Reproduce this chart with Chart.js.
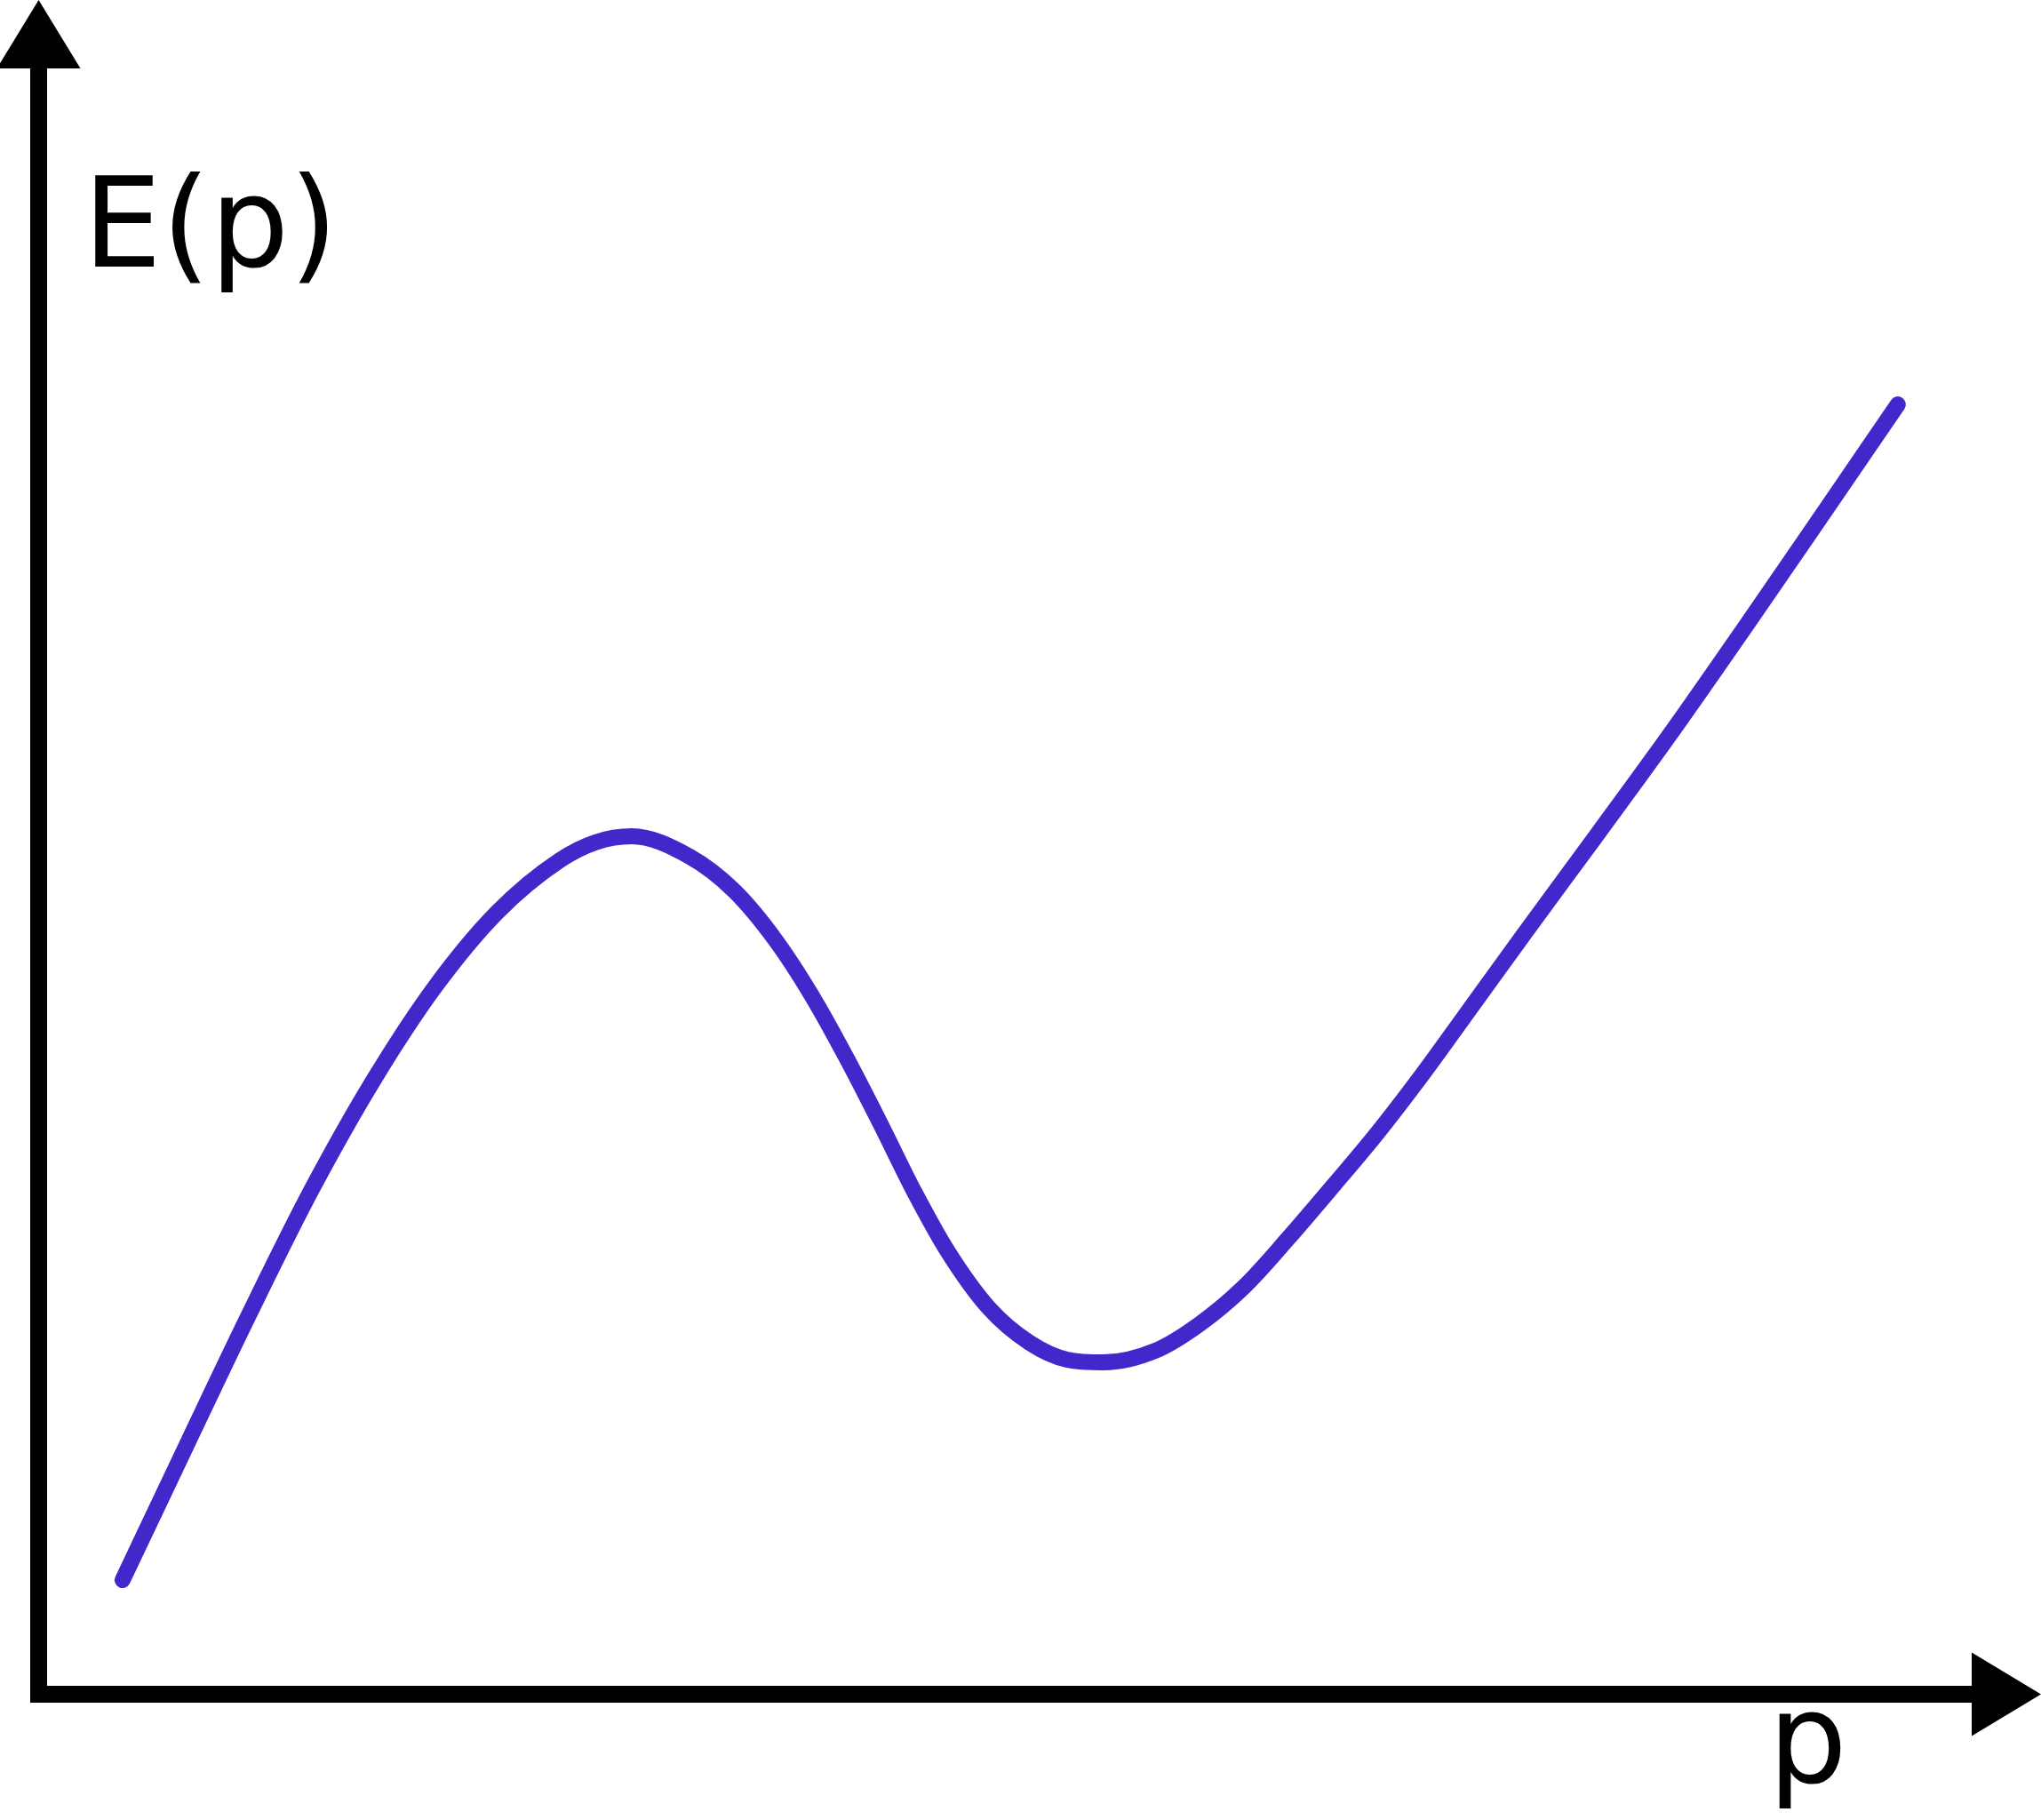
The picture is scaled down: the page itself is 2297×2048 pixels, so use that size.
<!DOCTYPE html>
<html>
<head>
<meta charset="utf-8">
<script src="https://cdn.jsdelivr.net/npm/chart.js@4/dist/chart.umd.min.js"></script>
<style>
  html, body { margin: 0; padding: 0; background: #fff; }
  #wrap { width: 2297px; height: 2048px; position: relative; }
</style>
</head>
<body>
<div id="wrap"><canvas id="chart"></canvas></div>
<script>
// momentum p (arbitrary units, 0..100 along the axis)
const pValues = [4.19, 7.39, 10.49, 13.60, 16.71, 19.81, 22.92, 26.03, 27.80,
  29.62, 32.51, 34.72, 36.77, 38.63, 40.36, 42.05, 43.73, 45.42, 47.46,
  49.50, 51.36, 53.18, 55.76, 57.98, 60.20, 62.42, 64.63, 66.85, 69.07,
  70.85, 74.22, 77.90, 81.58, 85.27, 88.91, 92.85];

// energy E(p) (arbitrary units, 0..100 up the axis)
const eValues = [6.74, 14.71, 22.37, 29.71, 36.22, 41.78, 46.18, 49.23, 50.28,
  50.64, 49.44, 47.44, 44.56, 41.20, 37.53, 33.65, 29.66, 26.10, 22.79,
  20.74, 19.75, 19.59, 20.27, 21.85, 24.05, 26.93, 29.98, 33.12, 36.53,
  39.42, 44.93, 50.85, 56.83, 63.07, 69.32, 76.13];

const xLabel = "p";
const yLabel = "E(p)";

const points = pValues.map((p, i) => ({ x: p, y: eValues[i] }));

// axes with arrow heads, anchored to the scale origin
const arrowAxes = {
  id: "arrowAxes",
  afterDraw(chart) {
    const ctx = chart.ctx;
    const xs = chart.scales.x;
    const ys = chart.scales.y;
    const ox = xs.getPixelForValue(0);
    const oy = ys.getPixelForValue(0);
    const w = 19;
    const headLen = 78;
    const headHalf = 47;
    const topEnd = 77;
    const rightEnd = chart.width - headLen;

    ctx.save();
    ctx.fillStyle = "#000";
    // vertical axis
    ctx.fillRect(ox - w / 2, topEnd, w, oy + w / 2 - topEnd);
    // horizontal axis
    ctx.fillRect(ox - w / 2, oy - w / 2, rightEnd - (ox - w / 2), w);

    // up arrow
    ctx.beginPath();
    ctx.moveTo(ox, 0);
    ctx.lineTo(ox + headHalf, topEnd);
    ctx.lineTo(ox - headHalf, topEnd);
    ctx.closePath();
    ctx.fill();

    // right arrow
    ctx.beginPath();
    ctx.moveTo(chart.width, oy);
    ctx.lineTo(rightEnd, oy - headHalf);
    ctx.lineTo(rightEnd, oy + headHalf);
    ctx.closePath();
    ctx.fill();

    // labels
    ctx.font = "140px 'DejaVu Sans'";
    ctx.textAlign = "left";
    ctx.textBaseline = "alphabetic";
    ctx.fillText(yLabel, ox + 50, 300);
    ctx.fillText(xLabel, 1990, 2006);
    ctx.restore();
  }
};

new Chart(document.getElementById("chart"), {
  type: "scatter",
  data: {
    datasets: [{
      data: points,
      showLine: true,
      borderColor: "#4228CB",
      borderWidth: 18,
      borderCapStyle: "round",
      borderJoinStyle: "round",
      cubicInterpolationMode: "monotone",
      pointRadius: 0,
      pointHoverRadius: 0,
      clip: false
    }]
  },
  options: {
    responsive: true,
    maintainAspectRatio: false,
    animation: false,
    layout: { padding: { left: 43.5, right: 0, top: 0, bottom: 141.5 } },
    plugins: {
      legend: { display: false },
      tooltip: { enabled: false }
    },
    scales: {
      x: { type: "linear", min: 0, max: 100, display: false },
      y: { type: "linear", min: 0, max: 100, display: false }
    }
  },
  plugins: [arrowAxes]
});
</script>
</body>
</html>
